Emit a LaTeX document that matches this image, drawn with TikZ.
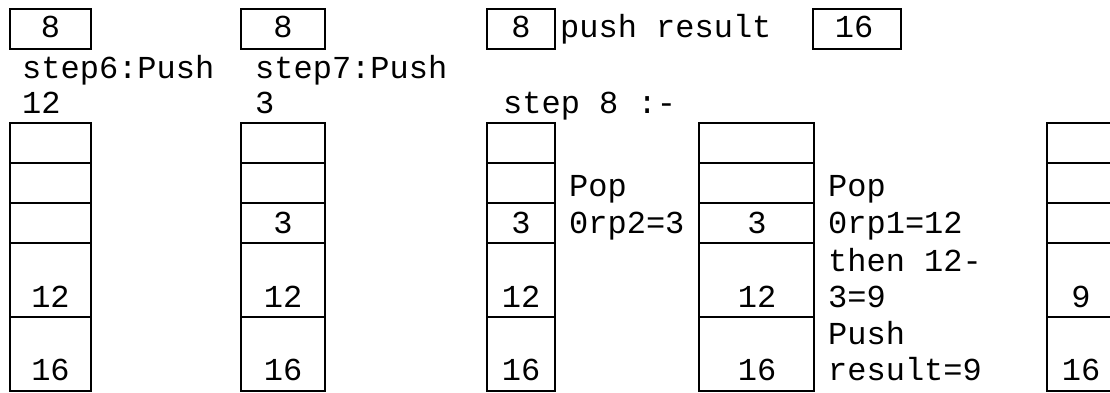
\documentclass[tikz,border=0pt]{standalone}
\usepackage{fontspec}
\setmainfont{Liberation Mono}
\tikzset{
  cellbox/.style={draw, line width=1.5pt, anchor=north west, inner sep=0pt, outer sep=0pt},
  txt/.style={anchor=base west, inner sep=0pt, font=\fontsize{32}{36}\selectfont},
  num/.style={anchor=base, inner sep=0pt, font=\fontsize{32}{36}\selectfont},
}
\begin{document}
\begin{tikzpicture}[x=1pt,y=-1pt]
\useasboundingbox (0,0) rectangle (1110,392);
\clip (0,0) rectangle (1110,392);
% stacks
\foreach \s/\l/\r in {1/10/91, 2/241/325, 3/487/555, 4/699/814, 5/1047/1115}{
  \foreach \c/\t/\b in {1/123/163, 2/163/203, 3/203/243, 4/243/317, 5/317/391}{
    \pgfmathsetmacro\w{\r-\l}
    \pgfmathsetmacro\h{\b-\t}
    \node[cellbox, minimum width=\w pt, minimum height=\h pt] (s\s c\c) at (\l,\t) {};
  }
}
% top boxes
\node[cellbox, minimum width=81pt, minimum height=40pt] (t1) at (10,9) {};
\node[cellbox, minimum width=84pt, minimum height=40pt] (t2) at (241,9) {};
\node[cellbox, minimum width=68pt, minimum height=40pt] (t3) at (487,9) {};
\node[cellbox, minimum width=88pt, minimum height=40pt] (t4) at (813,9) {};
\node[num] (t1v) at (50.5,37) {8};
\node[num] (t2v) at (283,37) {8};
\node[num] (t3v) at (521,37) {8};
\node[num] (t4v) at (854,37) {16};
\node[txt] (pr) at (560,37) {push result};
% labels
\node[txt] (l6a) at (22,78) {step6:Push};
\node[txt] (l6b) at (22,113) {12};
\node[txt] (l7a) at (255,78) {step7:Push};
\node[txt] (l7b) at (255,113) {3};
\node[txt] (l8) at (503,113) {step 8 :-};
\node[txt] (p1a) at (569,196) {Pop};
\node[txt] (p1b) at (569,233) {0rp2=3};
\node[txt] (p2a) at (828,196) {Pop};
\node[txt] (p2b) at (828,233) {0rp1=12};
\node[txt] (p2c) at (828,271) {then 12-};
\node[txt] (p2d) at (828,307) {3=9};
\node[txt] (p2e) at (828,344) {Push};
\node[txt] (p2f) at (828,380) {result=9};
% stack values
\node[num] (v1a) at (50.5,307) {12};
\node[num] (v1b) at (50.5,380) {16};
\node[num] (v2a) at (283,233) {3};
\node[num] (v2b) at (283,307) {12};
\node[num] (v2c) at (283,380) {16};
\node[num] (v3a) at (521,233) {3};
\node[num] (v3b) at (521,307) {12};
\node[num] (v3c) at (521,380) {16};
\node[num] (v4a) at (757,233) {3};
\node[num] (v4b) at (757,307) {12};
\node[num] (v4c) at (757,380) {16};
\node[num] (v5a) at (1081,307) {9};
\node[num] (v5b) at (1081,380) {16};
\end{tikzpicture}
\end{document}
